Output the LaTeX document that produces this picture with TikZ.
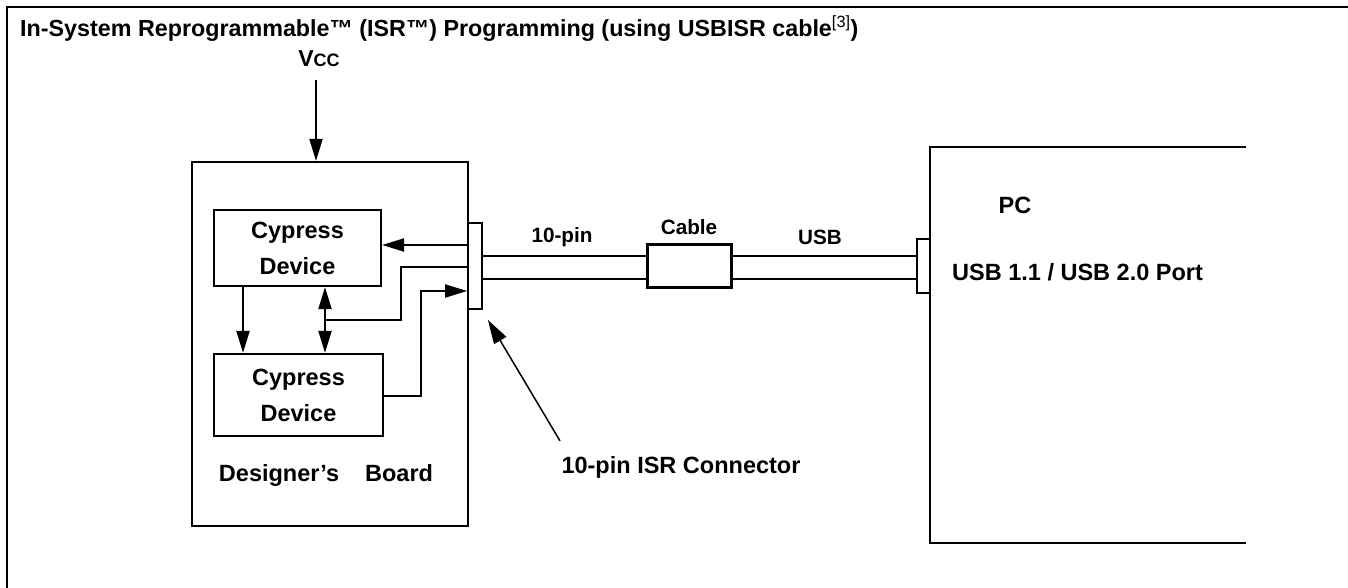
\documentclass[tikz,border=0pt]{standalone}
\usepackage{fontspec}
\setmainfont{Liberation Sans}
\usetikzlibrary{arrows.meta,positioning,calc}

\tikzset{
  blk/.style={draw, line width=2.2pt, inner sep=0pt},
  lbl/.style={font=\fontsize{23.5}{36}\selectfont\bfseries, align=center, inner sep=0pt},
  sml/.style={font=\fontsize{20.7}{24}\selectfont\bfseries, inner sep=0pt},
  wire/.style={line width=2pt},
  sig/.style={wire, -{Triangle[length=22pt,width=13pt]}},
  dsig/.style={wire, {Triangle[length=22pt,width=13pt]}-{Triangle[length=22pt,width=13pt]}},
}

\begin{document}
\begin{tikzpicture}[x=1pt,y=-1pt]
\useasboundingbox (0,0) rectangle (1348,588);
% frame and title
\draw[line width=2pt] (7,588) -- (7,7) -- (1348,7);
\node[anchor=base west, inner sep=0pt, font=\fontsize{23.3}{24}\selectfont\bfseries] (title) at (20,37)
  {In-System Reprogrammable\texttrademark\ (ISR\texttrademark) Programming (using USBISR cable\textsuperscript{\mdseries[3]})};
\node[anchor=base, inner sep=0pt, font=\fontsize{23}{24}\selectfont\bfseries] (vcc) at (319,67)
  {V{\fontsize{18}{18}\selectfont CC}};
%
% designer's board
\node[blk, minimum width=276pt, minimum height=364pt] (board) at (330,344) {};
\node[blk, lbl, minimum width=167pt, minimum height=76pt] (dev1) at (297.5,248) {Cypress\\Device};
\node[blk, lbl, minimum width=169pt, minimum height=82pt] (dev2) at (298.5,395) {Cypress\\Device};
\node[lbl] (brd) at (326,475) {Designer's\hspace{26pt}Board};
\node[draw, line width=1.8pt, inner sep=0pt, minimum width=14pt, minimum height=86pt] (conn) at (475,266) {};
%
% cable and pc
\node[draw, line width=3pt, inner sep=0pt, minimum width=84pt, minimum height=43pt] (cable) at (689,265.5) {};
\node[draw, line width=1.8pt, inner sep=0pt, minimum width=13pt, minimum height=54pt] (pcconn) at (923.5,266) {};
\coordinate (pctl) at (930,147);
\coordinate (pcbl) at (930,543);
\draw[line width=2.2pt] (1246,147) -- (pctl) -- (pcbl) -- (1246,543);
\node[lbl] (pc) at (1015,205) {PC};
\node[lbl, anchor=west] (port) at (952,272) {USB 1.1 / USB 2.0 Port};
\node[sml] (pinlbl) at (562,237) {10-pin};
\node[sml] (cablbl) at (689,227) {Cable};
\node[sml] (usblbl) at (820,237) {USB};
\node[lbl] (isrlbl) at (681,467) {10-pin ISR Connector};
%
% cable wires
\draw[wire] ([yshift=10pt]conn.east) -- ([yshift=10pt]conn.east -| cable.west);
\draw[wire] ([yshift=-13pt]conn.east) -- ([yshift=-13pt]conn.east -| cable.west);
\draw[wire] ([yshift=10pt]cable.east) -- ([yshift=10pt]cable.east -| pcconn.west);
\draw[wire] ([yshift=-13pt]cable.east) -- ([yshift=-13pt]cable.east -| pcconn.west);
%
% signals on the board
\draw[sig] (vcc.south) ++(-3,13) -- ([xshift=-14pt]board.north);
\draw[sig] ([yshift=21pt]conn.west) -- ([yshift=21pt]conn.west -| dev1.east);
\draw[sig] ([xshift=-54.5pt]dev1.south) -- ([xshift=-54.5pt]dev1.south |- dev2.north);
\draw[dsig] ([xshift=27.5pt]dev1.south) -- ([xshift=27.5pt]dev1.south |- dev2.north);
\coordinate (tap) at (325,320);
\draw[wire] ([yshift=-1pt]conn.west) -- ++(-66,0) |- (tap);
\draw[sig] ([yshift=-1pt]dev2.east) -| (421,291) -- ([yshift=-25pt]conn.west);
%
% pointer to the connector
\draw[line width=1.5pt, -{Triangle[length=24pt,width=14pt]}] ([xshift=-121pt,yshift=15pt]isrlbl.north) -- ([xshift=5pt,yshift=-10pt]conn.south east);
\end{tikzpicture}
\end{document}
